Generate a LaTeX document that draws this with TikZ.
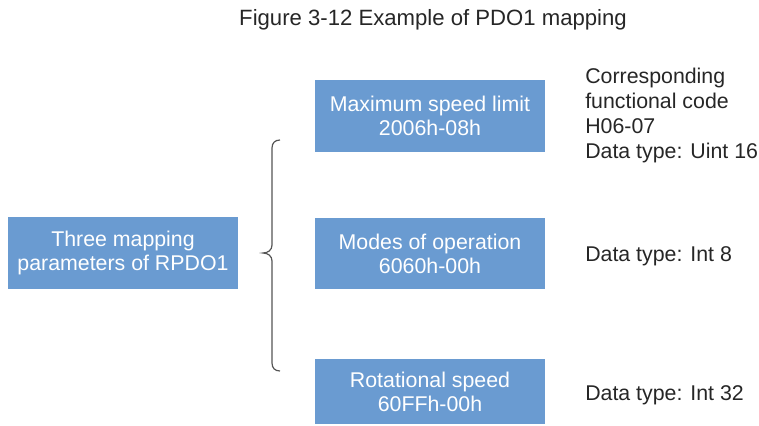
\documentclass[tikz,border=0pt]{standalone}
\usepackage{fontspec}
\setmainfont{Liberation Sans}
\definecolor{boxblue}{RGB}{106,155,209}
\definecolor{txtgray}{RGB}{38,38,38}
\definecolor{bracegray}{RGB}{85,85,85}
\begin{document}
\begin{tikzpicture}[x=0.75pt,y=-0.75pt,
  bluebox/.style={fill=boxblue,draw=none,text=white,minimum width=230*0.75pt,inner sep=0pt,align=center,font=\fontsize{16}{18}\selectfont},
  note/.style={text=txtgray,anchor=west,align=left,inner sep=0pt,font=\fontsize{16}{18.75}\selectfont}]
\useasboundingbox (0,0) rectangle (759,425);
\node[text=txtgray,font=\fontsize{16.6}{20}\selectfont] (title) at (433,20) {Figure 3-12 Example of PDO1 mapping};
\node[bluebox,minimum height=72*0.75pt] (root) at (123,253) {Three mapping\\parameters of RPDO1};
\node[bluebox,minimum height=72*0.75pt] (max) at (430,116) {Maximum speed limit\\2006h-08h};
\node[bluebox,minimum height=71*0.75pt] (mode) at (430,253.5) {Modes of operation\\6060h-00h};
\node[bluebox,minimum height=65*0.75pt] (rot) at (430,391.5) {Rotational speed\\60FFh-00h};
\node[note] (n1) at (585,115) {Corresponding\\functional code\\H06-07\\Data type: Uint 16};
\node[note] (n2) at (585,256) {Data type: Int 8};
\node[note] (n3) at (585,395) {Data type: Int 32};
\draw[bracegray,line width=0.9pt]
  (280,140) .. controls (275,140) and (272,143) .. (272,148)
  -- (272,245) .. controls (272,250) and (268,253) .. (263,253)
  .. controls (268,253) and (272,256) .. (272,261)
  -- (272,363) .. controls (272,368) and (275,371) .. (280,371);
\end{tikzpicture}
\end{document}
